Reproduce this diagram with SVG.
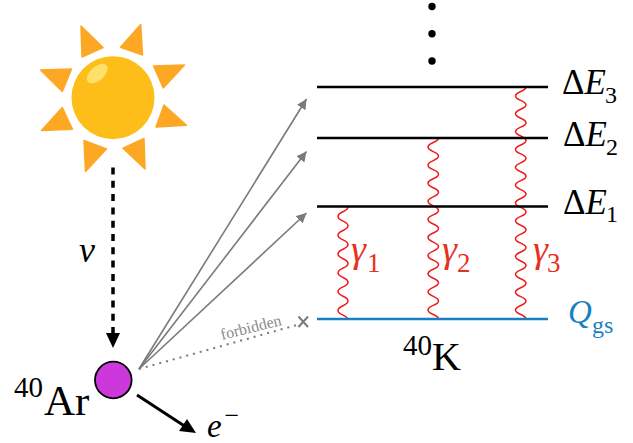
<svg xmlns="http://www.w3.org/2000/svg" width="633" height="443" viewBox="0 0 633 443">
<style>
text{font-family:"Liberation Serif","Times New Roman",serif;font-size:33px;fill:#000}
.i{font-style:italic}
.d{font-size:35px}
.s{font-size:24px}
.g{font-size:38px}
.gs{font-size:27px}
.big{font-size:40px}
.ar{font-size:43px}
.sup{font-size:29px}
.red{fill:#e8301f}
.blue{fill:#1a7fc0}
.lvl{stroke:#000;stroke-width:2.4;fill:none}
.wave{stroke:#f01818;stroke-width:1.5;fill:none}
.gray{stroke:#7a7a7a;stroke-width:1.6;fill:none}
.ray{fill:#fda825;stroke:#fda825;stroke-width:1.5;stroke-linejoin:round}
</style>
<defs>
<marker id="ga" markerUnits="userSpaceOnUse" markerWidth="12" markerHeight="12" refX="10" refY="5" orient="auto"><path d="M0 0L10 5L0 10z" fill="#7a7a7a"/></marker>
</defs>
<g id="sun">
<polygon class="ray" points="81,26 103,47.5 82,57"/>
<polygon class="ray" points="140.7,24.5 142.5,55 120.5,47.3"/>
<polygon class="ray" points="184.5,65 153.5,66 163.3,88"/>
<polygon class="ray" points="186.5,125.3 156,127 164,105"/>
<polygon class="ray" points="145,169 123,148.3 144,138.5"/>
<polygon class="ray" points="85.5,171.5 106.5,149 84,140.5"/>
<polygon class="ray" points="41.5,130.5 72.5,129.3 62.3,107.5"/>
<polygon class="ray" points="40.5,70 71.5,69 62.3,91.5"/>
<circle cx="113" cy="97.7" r="41.5" fill="#fdbe1a"/>
<ellipse cx="97.3" cy="73.5" rx="12.5" ry="7" transform="rotate(-42 97.3 73.5)" fill="#fee06a"/>
</g>
<g id="connectors">
<line x1="113" y1="167.500" x2="113" y2="334" stroke="#000" stroke-width="3.500" stroke-dasharray="7 6.300"/>
<polygon points="106,333 120,333 113,348" fill="#000"/>
<line class="gray" x1="139" y1="369" x2="306.500" y2="99" marker-end="url(#ga)"/>
<line class="gray" x1="139" y1="369" x2="306.500" y2="151.500" marker-end="url(#ga)"/>
<line class="gray" x1="139" y1="369" x2="306.500" y2="213" marker-end="url(#ga)"/>
<line x1="139" y1="369" x2="297" y2="325" stroke="#7a7a7a" stroke-width="2" stroke-dasharray="2 5"/>
<path d="M298.500 316.500L308 327M308 316.500L298.500 327" stroke="#7a7a7a" stroke-width="2" fill="none"/>
<line x1="137" y1="395" x2="186" y2="427" stroke="#000" stroke-width="3"/>
<polygon points="196,433 179,431 187,419" fill="#000"/>
<path class="wave" d="M348 207c0 4.700-10 4.700-10 9.400s10 4.700 10 9.400s-10 4.700-10 9.400s10 4.700 10 9.400s-10 4.700-10 9.400s10 4.700 10 9.400s-10 4.700-10 9.400s10 4.700 10 9.400s-10 4.700-10 9.400s10 4.700 10 9.400s-10 4.700-10 9.400s10 4.700 10 9.400"/>
<path class="wave" d="M438.500 138c0 4.525-10.500 4.525-10.500 9.050s10.500 4.525 10.500 9.050s-10.500 4.525-10.500 9.050s10.500 4.525 10.500 9.050s-10.500 4.525-10.500 9.050s10.500 4.525 10.500 9.050s-10.500 4.525-10.500 9.050s10.500 4.525 10.500 9.050s-10.500 4.525-10.500 9.050s10.500 4.525 10.500 9.050s-10.500 4.525-10.500 9.050s10.500 4.525 10.500 9.050s-10.500 4.525-10.500 9.050s10.500 4.525 10.500 9.050s-10.500 4.525-10.500 9.050s10.500 4.525 10.500 9.050s-10.500 4.525-10.500 9.050s10.500 4.525 10.500 9.050s-10.500 4.525-10.500 9.050s10.500 4.525 10.500 9.050"/>
<path class="wave" d="M526 87c0 4.460-10.500 4.460-10.500 8.920s10.500 4.460 10.500 8.920s-10.500 4.460-10.500 8.920s10.500 4.460 10.500 8.920s-10.500 4.460-10.500 8.920s10.500 4.460 10.500 8.920s-10.500 4.460-10.500 8.920s10.500 4.460 10.500 8.920s-10.500 4.460-10.500 8.920s10.500 4.460 10.500 8.920s-10.500 4.460-10.500 8.920s10.500 4.460 10.500 8.920s-10.500 4.460-10.500 8.920s10.500 4.460 10.500 8.920s-10.500 4.460-10.500 8.920s10.500 4.460 10.500 8.920s-10.500 4.460-10.500 8.920s10.500 4.460 10.500 8.920s-10.500 4.460-10.500 8.920s10.500 4.460 10.500 8.920s-10.500 4.460-10.500 8.920s10.500 4.460 10.500 8.920s-10.500 4.460-10.500 8.920s10.500 4.460 10.500 8.920s-10.500 4.460-10.500 8.920s10.500 4.460 10.500 8.920"/>
</g>
<g id="levels">
<line class="lvl" x1="317" y1="87" x2="548" y2="87"/>
<line class="lvl" x1="317" y1="138" x2="548" y2="138"/>
<line class="lvl" x1="317" y1="206.500" x2="548" y2="206.500"/>
<line x1="317" y1="319" x2="548" y2="319" stroke="#1a7fc0" stroke-width="2.400"/>
</g>
<g id="dots" fill="#000">
<circle cx="432" cy="6.500" r="3.700"/>
<circle cx="432" cy="33.700" r="3.700"/>
<circle cx="432" cy="61" r="3.700"/>
</g>
<g id="labels">
<text class="d" x="562" y="94">Δ<tspan class="i">E</tspan></text><text class="s" x="605" y="103">3</text>
<text class="d" x="563" y="146">Δ<tspan class="i">E</tspan></text><text class="s" x="606" y="155">2</text>
<text class="d" x="563" y="214">Δ<tspan class="i">E</tspan></text><text class="s" x="606" y="222">1</text>
<text class="i red g" x="351" y="262">γ</text><text class="gs red" x="367" y="272">1</text>
<text class="i red g" x="442" y="262">γ</text><text class="gs red" x="457" y="272">2</text>
<text class="i red g" x="533" y="262">γ</text><text class="gs red" x="547" y="272">3</text>
<text class="i blue" x="568" y="323">Q</text><text class="s blue" x="592" y="333">gs</text>
<text class="sup" x="403" y="355">40</text><text class="big" x="432" y="370">K</text>
<text class="sup" x="14" y="397">40</text><text class="ar" x="44" y="415">Ar</text>
<text class="i" x="207" y="437">e</text><text x="224.500" y="424" style="font-size:26px">−</text>
<text class="i" x="79" y="262" style="font-size:36px">ν</text>
<text x="222" y="340" transform="rotate(-14 222 340)" style="font-size:16px;fill:#8a8a8a">forbidden</text>
</g>
<g id="argon"><circle cx="113.300" cy="380" r="18.300" fill="#cc38dc" stroke="#000" stroke-width="1.800"/></g>
</svg>
